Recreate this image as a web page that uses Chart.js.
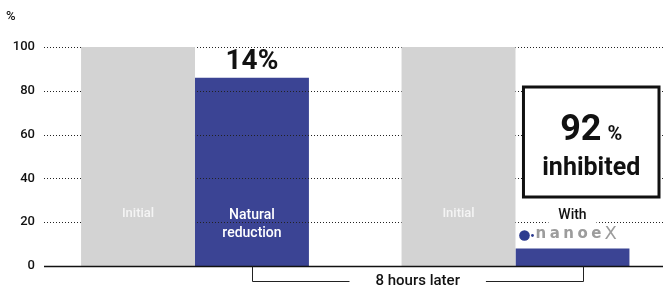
<!DOCTYPE html>
<html>
<head>
<meta charset="utf-8">
<script src="https://cdn.jsdelivr.net/npm/chart.js@4.4.1/dist/chart.umd.min.js"></script>
<style>
  html, body { margin: 0; padding: 0; background: #fff; }
  #wrap { width: 663px; height: 289px; position: relative; }
</style>
</head>
<body>
<div id="wrap"><canvas id="c" width="663" height="289"></canvas></div>
<script>
// ---- data ----
const categories = ['Natural reduction', 'With nanoe X'];
const initialValues = [100, 100];
const after8hValues = [86, 8];
const yTickValues = [0, 20, 40, 60, 80, 100];
const initialLabel = 'Initial';
const afterLabels = [['Natural', 'reduction'], ['With']];
const logoWord = 'nanoe';
const logoMark = 'X';
const changeLabel1 = '14%';
const changeLabel2Big = '92';
const changeLabel2Pct = '%';
const changeLabel2Word = 'inhibited';
const spanLabel = '8 hours later';
const unitLabel = '%';

const FONT = 'Roboto, "DejaVu Sans", sans-serif';
const GREY = '#d3d3d3';
const BLUE = '#3b4494';

const xPos = categories.map((c, i) => i + 1);

const decor = {
  id: 'decor',
  afterDatasetDraw(chart, args) {
    if (args.index !== 1) return;
    // dotted grid lines, drawn above blue bars, below grey bars
    const ctx = chart.ctx, y = chart.scales.y, a = chart.chartArea;
    ctx.save();
    ctx.strokeStyle = '#222';
    ctx.lineWidth = 1;
    ctx.setLineDash([1, 2]);
    yTickValues.forEach(v => {
      if (v === 0) return;
      const py = Math.round(y.getPixelForValue(v)) + 0.5;
      ctx.beginPath(); ctx.moveTo(a.left, py); ctx.lineTo(a.right, py); ctx.stroke();
    });
    ctx.restore();
  },
  afterDraw(chart) {
    const ctx = chart.ctx, y = chart.scales.y, a = chart.chartArea;
    const grey = chart.getDatasetMeta(0).data;
    const blue = chart.getDatasetMeta(1).data;
    ctx.save();
    // baseline
    const base = Math.round(y.getPixelForValue(0)) + 0.5;
    ctx.strokeStyle = '#111'; ctx.lineWidth = 1.3;
    ctx.beginPath(); ctx.moveTo(a.left, base); ctx.lineTo(a.right, base); ctx.stroke();

    ctx.textAlign = 'center'; ctx.textBaseline = 'middle';
    // Initial labels
    ctx.fillStyle = '#f4f4f4';
    ctx.font = '500 13px ' + FONT;
    grey.forEach(b => ctx.fillText(initialLabel, b.x, 214));
    // Natural reduction
    ctx.fillStyle = '#ffffff';
    ctx.font = '500 14px ' + FONT;
    afterLabels[0].forEach((t, i) => ctx.fillText(t, blue[0].x, 215 + i * 18));
    // With (white background)
    ctx.fillStyle = '#fff';
    ctx.fillRect(blue[1].x - 24, 206, 48, 18);
    ctx.fillStyle = '#111';
    ctx.fillText(afterLabels[1][0], blue[1].x, 215);
    // nanoe X logo as text
    const lx = blue[1].x - 57;
    ctx.fillStyle = '#2c3b8f';
    ctx.beginPath(); ctx.arc(lx + 9, 235.5, 5.3, 0, Math.PI * 2); ctx.fill();
    ctx.beginPath(); ctx.arc(lx + 17, 235.5, 1.4, 0, Math.PI * 2); ctx.fill();
    ctx.fillStyle = '#9c9c9c';
    ctx.textAlign = 'left';
    ctx.font = 'bold 15px "DejaVu Sans"';
    ctx.letterSpacing = '3.5px';
    ctx.fillText(logoWord, lx + 20, 234);
    ctx.letterSpacing = '0px';
    ctx.font = '18px "DejaVu Sans"';
    ctx.fillText(logoMark, lx + 89, 234);
    ctx.textAlign = 'center';

    // 14% label
    ctx.fillStyle = '#111';
    ctx.font = 'bold 28px ' + FONT;
    ctx.fillText(changeLabel1, blue[0].x, 62);

    // 92% inhibited box
    const bx0 = blue[1].x - 49, bx1 = a.right - 4;
    const by0 = 87, by1 = 197;
    ctx.fillStyle = '#fff';
    ctx.fillRect(bx0, by0, bx1 - bx0, by1 - by0);
    ctx.strokeStyle = '#111'; ctx.lineWidth = 3;
    ctx.strokeRect(bx0, by0, bx1 - bx0, by1 - by0);
    const cx = (bx0 + bx1) / 2;
    ctx.fillStyle = '#111';
    ctx.textBaseline = 'alphabetic';
    ctx.font = 'bold 36px ' + FONT;
    const w92 = ctx.measureText(changeLabel2Big).width;
    ctx.font = 'bold 20px ' + FONT;
    const wp = ctx.measureText(changeLabel2Pct).width;
    const gap = 6;
    const sx = cx - (w92 + gap + wp) / 2;
    ctx.textAlign = 'left';
    ctx.font = 'bold 36px ' + FONT;
    ctx.fillText(changeLabel2Big, sx, 140);
    ctx.font = 'bold 20px ' + FONT;
    ctx.fillText(changeLabel2Pct, sx + w92 + gap, 140);
    ctx.textAlign = 'center';
    ctx.font = 'bold 25px ' + FONT;
    ctx.fillText(changeLabel2Word, cx, 175);

    // bracket
    const l = blue[0].x, r = blue[1].x + 11, yb = 281.5;
    ctx.font = '500 15px ' + FONT;
    ctx.textBaseline = 'middle';
    const mid = (l + r) / 2;
    const tw = ctx.measureText(spanLabel).width;
    ctx.strokeStyle = '#222'; ctx.lineWidth = 1;
    ctx.beginPath();
    ctx.moveTo(Math.round(l) + 0.5, base); ctx.lineTo(Math.round(l) + 0.5, yb); ctx.lineTo(mid - tw / 2 - 26, yb);
    ctx.moveTo(mid + tw / 2 + 26, yb); ctx.lineTo(Math.round(r) + 0.5, yb); ctx.lineTo(Math.round(r) + 0.5, base);
    ctx.stroke();
    ctx.fillStyle = '#111';
    ctx.fillText(spanLabel, mid, 281);

    // unit label
    ctx.textAlign = 'left';
    ctx.font = '500 13px ' + FONT;
    ctx.fillText(unitLabel, 6, 17);
    ctx.restore();
  }
};

new Chart(document.getElementById('c'), {
  type: 'bar',
  data: {
    datasets: [
      { label: 'Initial', data: initialValues.map((v, i) => ({ x: xPos[i], y: v })), backgroundColor: GREY },
      { label: '8 hours later', data: after8hValues.map((v, i) => ({ x: xPos[i], y: v })), backgroundColor: BLUE }
    ]
  },
  options: {
    responsive: false,
    animation: false,
    events: [],
    layout: { padding: { top: 47, bottom: 23, left: 0, right: 0 } },
    datasets: { bar: { categoryPercentage: 0.711, barPercentage: 1, borderWidth: 0 } },
    plugins: { legend: { display: false }, tooltip: { enabled: false } },
    scales: {
      x: {
        type: 'linear', display: false, offset: false, min: 0.5289, max: 2.4602,
        grid: { offset: false },
        afterBuildTicks: s => { s.ticks = xPos.map(v => ({ value: v })); }
      },
      y: {
        min: 0, max: 100,
        afterFit: s => { s.width = 44; },
        afterBuildTicks: s => { s.ticks = yTickValues.map(v => ({ value: v })); },
        grid: { display: false, drawTicks: false },
        border: { display: false },
        ticks: { padding: 9, color: '#111', font: { family: FONT, size: 13, weight: '500' } }
      }
    }
  },
  plugins: [decor]
});
</script>
</body>
</html>
